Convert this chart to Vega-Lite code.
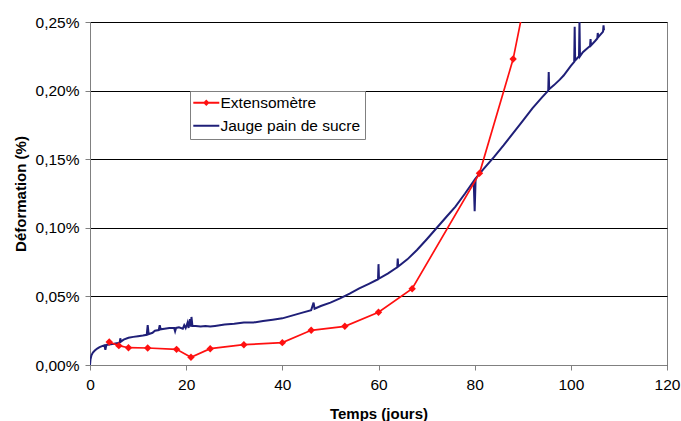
{
  "$schema": "https://vega.github.io/schema/vega-lite/v6.json",
  "width": 577,
  "height": 343,
  "autosize": {"type": "none"},
  "padding": {"left": 90, "top": 22, "right": 14, "bottom": 56},
  "background": "white",
  "config": {
    "font": "Liberation Sans",
    "view": {"stroke": "#808080", "strokeWidth": 1}
  },
  "data": {
    "values": [
      {"series": "Extensomètre", "t": 4, "v": 0.0168},
      {"series": "Extensomètre", "t": 6, "v": 0.0141},
      {"series": "Extensomètre", "t": 8, "v": 0.0126},
      {"series": "Extensomètre", "t": 12, "v": 0.0124},
      {"series": "Extensomètre", "t": 18, "v": 0.0114},
      {"series": "Extensomètre", "t": 21, "v": 0.0056},
      {"series": "Extensomètre", "t": 25, "v": 0.0119},
      {"series": "Extensomètre", "t": 32, "v": 0.0148},
      {"series": "Extensomètre", "t": 40, "v": 0.0163},
      {"series": "Extensomètre", "t": 46, "v": 0.0253},
      {"series": "Extensomètre", "t": 53, "v": 0.0282},
      {"series": "Extensomètre", "t": 60, "v": 0.0384},
      {"series": "Extensomètre", "t": 67, "v": 0.0556},
      {"series": "Extensomètre", "t": 81, "v": 0.1397},
      {"series": "Extensomètre", "t": 88, "v": 0.223},
      {"series": "Extensomètre", "t": 95, "v": 0.345},
      {"series": "Jauge pain de sucre", "t": 0, "v": 0},
      {"series": "Jauge pain de sucre", "t": 0.1, "v": 0.004},
      {"series": "Jauge pain de sucre", "t": 0.3, "v": 0.007},
      {"series": "Jauge pain de sucre", "t": 0.6, "v": 0.009},
      {"series": "Jauge pain de sucre", "t": 1.0, "v": 0.0105},
      {"series": "Jauge pain de sucre", "t": 1.5, "v": 0.012},
      {"series": "Jauge pain de sucre", "t": 2.0, "v": 0.013},
      {"series": "Jauge pain de sucre", "t": 2.5, "v": 0.0138},
      {"series": "Jauge pain de sucre", "t": 3.0, "v": 0.0143},
      {"series": "Jauge pain de sucre", "t": 3.2, "v": 0.011},
      {"series": "Jauge pain de sucre", "t": 3.4, "v": 0.0146},
      {"series": "Jauge pain de sucre", "t": 4.0, "v": 0.015},
      {"series": "Jauge pain de sucre", "t": 5.0, "v": 0.0155},
      {"series": "Jauge pain de sucre", "t": 5.8, "v": 0.016},
      {"series": "Jauge pain de sucre", "t": 6.2, "v": 0.0165},
      {"series": "Jauge pain de sucre", "t": 6.3, "v": 0.0195},
      {"series": "Jauge pain de sucre", "t": 6.4, "v": 0.017},
      {"series": "Jauge pain de sucre", "t": 7.0, "v": 0.0185},
      {"series": "Jauge pain de sucre", "t": 8.0, "v": 0.0198},
      {"series": "Jauge pain de sucre", "t": 9.0, "v": 0.0205},
      {"series": "Jauge pain de sucre", "t": 10.0, "v": 0.021},
      {"series": "Jauge pain de sucre", "t": 11.0, "v": 0.0215},
      {"series": "Jauge pain de sucre", "t": 11.8, "v": 0.022},
      {"series": "Jauge pain de sucre", "t": 12.0, "v": 0.029},
      {"series": "Jauge pain de sucre", "t": 12.2, "v": 0.0225},
      {"series": "Jauge pain de sucre", "t": 13.0, "v": 0.0235},
      {"series": "Jauge pain de sucre", "t": 13.5, "v": 0.025},
      {"series": "Jauge pain de sucre", "t": 14.3, "v": 0.0255},
      {"series": "Jauge pain de sucre", "t": 14.5, "v": 0.029},
      {"series": "Jauge pain de sucre", "t": 14.7, "v": 0.026},
      {"series": "Jauge pain de sucre", "t": 15.5, "v": 0.0265},
      {"series": "Jauge pain de sucre", "t": 16.5, "v": 0.027},
      {"series": "Jauge pain de sucre", "t": 17.5, "v": 0.027},
      {"series": "Jauge pain de sucre", "t": 17.7, "v": 0.0245},
      {"series": "Jauge pain de sucre", "t": 17.9, "v": 0.027},
      {"series": "Jauge pain de sucre", "t": 18.5, "v": 0.0275},
      {"series": "Jauge pain de sucre", "t": 19.3, "v": 0.0265},
      {"series": "Jauge pain de sucre", "t": 19.6, "v": 0.029},
      {"series": "Jauge pain de sucre", "t": 19.9, "v": 0.027},
      {"series": "Jauge pain de sucre", "t": 20.3, "v": 0.031},
      {"series": "Jauge pain de sucre", "t": 20.5, "v": 0.027},
      {"series": "Jauge pain de sucre", "t": 20.8, "v": 0.0335},
      {"series": "Jauge pain de sucre", "t": 21.0, "v": 0.028},
      {"series": "Jauge pain de sucre", "t": 21.1, "v": 0.035},
      {"series": "Jauge pain de sucre", "t": 21.3, "v": 0.0285},
      {"series": "Jauge pain de sucre", "t": 22.0, "v": 0.0285},
      {"series": "Jauge pain de sucre", "t": 23.0, "v": 0.028},
      {"series": "Jauge pain de sucre", "t": 24.0, "v": 0.0285},
      {"series": "Jauge pain de sucre", "t": 25.0, "v": 0.028},
      {"series": "Jauge pain de sucre", "t": 26.0, "v": 0.0285},
      {"series": "Jauge pain de sucre", "t": 27.0, "v": 0.029},
      {"series": "Jauge pain de sucre", "t": 28.0, "v": 0.0295},
      {"series": "Jauge pain de sucre", "t": 30.0, "v": 0.030},
      {"series": "Jauge pain de sucre", "t": 32.0, "v": 0.031},
      {"series": "Jauge pain de sucre", "t": 34.0, "v": 0.031},
      {"series": "Jauge pain de sucre", "t": 36.0, "v": 0.032},
      {"series": "Jauge pain de sucre", "t": 38.0, "v": 0.033},
      {"series": "Jauge pain de sucre", "t": 40.0, "v": 0.034},
      {"series": "Jauge pain de sucre", "t": 42.0, "v": 0.036},
      {"series": "Jauge pain de sucre", "t": 44.0, "v": 0.038},
      {"series": "Jauge pain de sucre", "t": 46.0, "v": 0.040},
      {"series": "Jauge pain de sucre", "t": 46.5, "v": 0.0455},
      {"series": "Jauge pain de sucre", "t": 46.7, "v": 0.041},
      {"series": "Jauge pain de sucre", "t": 48.0, "v": 0.043},
      {"series": "Jauge pain de sucre", "t": 50.0, "v": 0.0455},
      {"series": "Jauge pain de sucre", "t": 52.0, "v": 0.0485},
      {"series": "Jauge pain de sucre", "t": 54.0, "v": 0.052},
      {"series": "Jauge pain de sucre", "t": 56.0, "v": 0.0558},
      {"series": "Jauge pain de sucre", "t": 58.0, "v": 0.0592},
      {"series": "Jauge pain de sucre", "t": 59.9, "v": 0.0625},
      {"series": "Jauge pain de sucre", "t": 60.0, "v": 0.0735},
      {"series": "Jauge pain de sucre", "t": 60.1, "v": 0.063},
      {"series": "Jauge pain de sucre", "t": 62.0, "v": 0.0668},
      {"series": "Jauge pain de sucre", "t": 63.9, "v": 0.0712},
      {"series": "Jauge pain de sucre", "t": 64.0, "v": 0.0775},
      {"series": "Jauge pain de sucre", "t": 64.1, "v": 0.0717},
      {"series": "Jauge pain de sucre", "t": 66.0, "v": 0.077},
      {"series": "Jauge pain de sucre", "t": 68.0, "v": 0.0838},
      {"series": "Jauge pain de sucre", "t": 70.0, "v": 0.0915},
      {"series": "Jauge pain de sucre", "t": 72.0, "v": 0.0995},
      {"series": "Jauge pain de sucre", "t": 74.0, "v": 0.1075},
      {"series": "Jauge pain de sucre", "t": 76.0, "v": 0.1155},
      {"series": "Jauge pain de sucre", "t": 78.0, "v": 0.125},
      {"series": "Jauge pain de sucre", "t": 79.8, "v": 0.134},
      {"series": "Jauge pain de sucre", "t": 80.0, "v": 0.112},
      {"series": "Jauge pain de sucre", "t": 80.2, "v": 0.136},
      {"series": "Jauge pain de sucre", "t": 82.0, "v": 0.1435},
      {"series": "Jauge pain de sucre", "t": 84.0, "v": 0.1515},
      {"series": "Jauge pain de sucre", "t": 86.0, "v": 0.160},
      {"series": "Jauge pain de sucre", "t": 88.0, "v": 0.169},
      {"series": "Jauge pain de sucre", "t": 90.0, "v": 0.178},
      {"series": "Jauge pain de sucre", "t": 92.0, "v": 0.187},
      {"series": "Jauge pain de sucre", "t": 94.0, "v": 0.195},
      {"series": "Jauge pain de sucre", "t": 95.3, "v": 0.200},
      {"series": "Jauge pain de sucre", "t": 95.4, "v": 0.2135},
      {"series": "Jauge pain de sucre", "t": 95.5, "v": 0.201},
      {"series": "Jauge pain de sucre", "t": 96.5, "v": 0.204},
      {"series": "Jauge pain de sucre", "t": 97.7, "v": 0.208},
      {"series": "Jauge pain de sucre", "t": 98.5, "v": 0.211},
      {"series": "Jauge pain de sucre", "t": 100.0, "v": 0.218},
      {"series": "Jauge pain de sucre", "t": 100.7, "v": 0.221},
      {"series": "Jauge pain de sucre", "t": 100.8, "v": 0.2465},
      {"series": "Jauge pain de sucre", "t": 100.9, "v": 0.222},
      {"series": "Jauge pain de sucre", "t": 101.7, "v": 0.225},
      {"series": "Jauge pain de sucre", "t": 101.8, "v": 0.2515},
      {"series": "Jauge pain de sucre", "t": 101.9, "v": 0.225},
      {"series": "Jauge pain de sucre", "t": 102.5, "v": 0.228},
      {"series": "Jauge pain de sucre", "t": 103.5, "v": 0.231},
      {"series": "Jauge pain de sucre", "t": 104.0, "v": 0.2325},
      {"series": "Jauge pain de sucre", "t": 104.1, "v": 0.2375},
      {"series": "Jauge pain de sucre", "t": 104.2, "v": 0.233},
      {"series": "Jauge pain de sucre", "t": 105.0, "v": 0.236},
      {"series": "Jauge pain de sucre", "t": 105.5, "v": 0.238},
      {"series": "Jauge pain de sucre", "t": 105.6, "v": 0.242},
      {"series": "Jauge pain de sucre", "t": 105.7, "v": 0.239},
      {"series": "Jauge pain de sucre", "t": 106.7, "v": 0.243},
      {"series": "Jauge pain de sucre", "t": 106.8, "v": 0.2475},
      {"series": "Jauge pain de sucre", "t": 106.9, "v": 0.244}
    ]
  },
  "encoding": {
    "x": {
      "field": "t", "type": "quantitative",
      "scale": {"domain": [0, 120], "nice": false, "zero": false},
      "axis": {
        "title": "Temps (jours)",
        "values": [0, 20, 40, 60, 80, 100, 120],
        "grid": false,
        "labelFlush": false,
        "domainColor": "#808080",
        "tickColor": "#808080",
        "tickSize": 5,
        "labelFontSize": 15.5,
        "labelColor": "#000000",
        "labelPadding": 7,
        "titleFontSize": 15,
        "titleFontWeight": "bold",
        "titleColor": "#000000",
        "titleBaseline": "alphabetic",
        "titleY": 53
      }
    },
    "y": {
      "field": "v", "type": "quantitative",
      "scale": {"domain": [0, 0.25], "nice": false, "zero": false},
      "axis": {
        "title": "Déformation (%)",
        "values": [0, 0.05, 0.1, 0.15, 0.2, 0.25],
        "labelExpr": "replace(format(datum.value, '.2f'), '.', ',') + '%'",
        "grid": true,
        "labelFlush": false,
        "gridColor": "#000000",
        "gridOpacity": 1,
        "gridWidth": 1,
        "domainColor": "#808080",
        "tickColor": "#808080",
        "tickSize": 5,
        "labelFontSize": 15.5,
        "labelColor": "#000000",
        "labelPadding": 6,
        "titleFontSize": 15,
        "titleFontWeight": "bold",
        "titleColor": "#000000",
        "titleBaseline": "alphabetic",
        "titleX": -65
      }
    },
    "color": {
      "field": "series", "type": "nominal",
      "scale": {"domain": ["Extensomètre", "Jauge pain de sucre"], "range": ["#ff1010", "#1f1f78"]},
      "legend": {
        "title": null,
        "orient": "none",
        "legendX": 100,
        "legendY": 69,
        "strokeColor": "#808080",
        "fillColor": "#ffffff",
        "padding": 4,
        "symbolType": "M-1.3,0H2.7",
        "symbolSize": 169,
        "symbolStrokeWidth": 2,
        "labelFontSize": 15.5,
        "labelColor": "#000000",
        "labelOffset": 11,
        "rowPadding": 6,
        "encode": {
          "symbols": {
            "update": {
              "fill": {"scale": "color", "field": "value"},
              "shape": {"signal": "datum.value == 'Extensomètre' ? 'M-1.3,0H2.7M0.7,-0.28L0.98,0L0.7,0.28L0.42,0Z' : 'M-1.3,0H2.7'"}
            }
          }
        }
      }
    }
  },
  "layer": [
    {
      "transform": [{"filter": "datum.series == 'Jauge pain de sucre'"}],
      "mark": {"type": "line", "strokeWidth": 2, "clip": true}
    },
    {
      "transform": [{"filter": "datum.series == 'Extensomètre'"}],
      "mark": {"type": "line", "strokeWidth": 1.7, "clip": true}
    },
    {
      "transform": [{"filter": "datum.series == 'Extensomètre'"}],
      "mark": {"type": "point", "shape": "diamond", "filled": true, "size": 55, "opacity": 1, "clip": true}
    }
  ]
}
